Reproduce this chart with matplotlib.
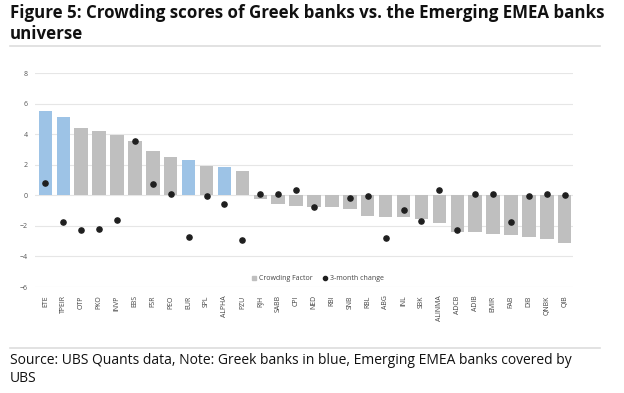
import matplotlib.pyplot as plt
from matplotlib.patches import Patch
from matplotlib.lines import Line2D
import numpy as np

banks = ["ETE", "TPEIR", "OTP", "PKO", "INVP", "EBS", "FSR", "PEO", "EUR", "SPL",
         "ALPHA", "PZU", "RJH", "SABB", "CPI", "NED", "RBI", "SNB", "RBL", "ABG",
         "INL", "SBK", "ALINMA", "ADCB", "ADIB", "EMIR", "FAB", "DIB", "QNBK", "QIB"]
crowding = [5.5, 5.15, 4.43, 4.2, 3.96, 3.52, 2.87, 2.48, 2.33, 1.89,
            1.85, 1.59, -0.24, -0.59, -0.67, -0.78, -0.78, -0.91, -1.33, -1.39,
            -1.39, -1.52, -1.83, -2.41, -2.43, -2.54, -2.57, -2.76, -2.85, -3.15]
change_3m = [0.8, -1.72, -2.24, -2.22, -1.59, 3.54, 0.72, 0.07, -2.74, -0.07,
             -0.54, -2.93, 0.11, 0.07, 0.35, -0.76, np.nan, -0.15, -0.07, -2.78,
             -0.98, -1.7, 0.37, -2.26, 0.11, 0.11, -1.72, -0.02, 0.09, 0.02]
greek = ["ETE", "TPEIR", "EUR", "ALPHA"]

plt.rcParams['font.family'] = ['Open Sans', 'DejaVu Sans']

fig = plt.figure(figsize=(6.24, 3.93), dpi=100)
ax = fig.add_axes([35/624, 1-287/393, 538/624, 214/393])

x = np.arange(len(banks))
colors = ["#9DC3E6" if b in greek else "#BFBFBF" for b in banks]
ax.bar(x, crowding, width=0.75, color=colors, zorder=2)
ax.scatter(x, change_3m, s=14, color="#1f1f1f", zorder=3)

ax.set_ylim(-6, 8)
ax.set_xlim(-0.58, len(banks) - 1 + 0.46)
ax.set_yticks(range(-6, 9, 2))
ax.grid(axis="y", color="#e6e6e6", linewidth=0.8, zorder=0)
for s in ax.spines.values():
    s.set_visible(False)
ax.tick_params(axis="y", length=0, labelsize=5, labelcolor="#555555", pad=5)
ax.set_xticks(x)
ax.set_xticklabels(banks, rotation=90, fontsize=5, color="#444444")
ax.tick_params(axis="x", length=0, pad=6)

handles = [Patch(color="#BFBFBF"),
           Line2D([], [], marker="o", linestyle="none", color="#1f1f1f", markersize=3)]
leg = ax.legend(handles=handles, labels=["Crowding Factor", "3-month change"], loc="center",
                bbox_to_anchor=(318/624, 1-279/393), bbox_transform=fig.transFigure, ncol=2,
                frameon=False, fontsize=5, handlelength=0.6, handleheight=0.6,
                handletextpad=0.4, columnspacing=1.5)
for t in leg.get_texts():
    t.set_color("#444444")

fig.text(10/624, 1-13/393, "Figure 5: Crowding scores of Greek banks vs. the Emerging EMEA banks",
         fontsize=12.2, fontweight="bold", va="center", ha="left", color="#111111")
fig.text(10/624, 1-34/393, "universe", fontsize=12.2, fontweight="bold", va="center", ha="left",
         color="#111111")
fig.add_artist(Line2D([10/624, 600/624], [1-46/393, 1-46/393], color="#dddddd", linewidth=1.2))
fig.add_artist(Line2D([10/624, 600/624], [1-348/393, 1-348/393], color="#dddddd", linewidth=1.2))
fig.text(10/624, 1-360/393, "Source: UBS Quants data, Note: Greek banks in blue, Emerging EMEA banks covered by",
         fontsize=10, va="center", ha="left", color="#111111")
fig.text(10/624, 1-379/393, "UBS", fontsize=10, va="center", ha="left", color="#111111")

fig.savefig("out.png", dpi=100)
